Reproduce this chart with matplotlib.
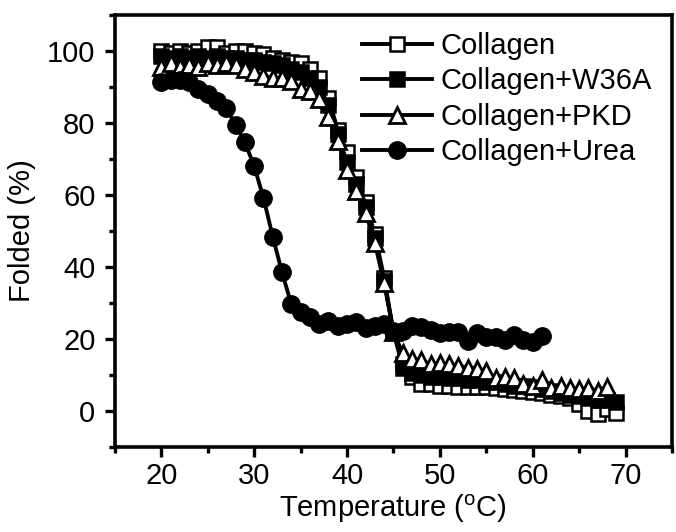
import numpy as np
import matplotlib
matplotlib.use("Agg")
import matplotlib.pyplot as plt
from matplotlib.ticker import MultipleLocator

plt.rcParams['font.family'] = ['Liberation Sans', 'DejaVu Sans']
plt.rcParams['mathtext.fontset'] = 'custom'
plt.rcParams['mathtext.rm'] = 'Liberation Sans'

# temperatures (C), 1 degree steps
temp_collagen = list(range(20, 70))
temp_w36a = list(range(20, 70))
temp_pkd = list(range(20, 69))
temp_urea = list(range(20, 62))

collagen = [100, 99.5, 100, 99.5, 100, 101, 101, 99.5, 100, 100,
            99.5, 99, 98, 97.5, 97, 96.5, 95, 92.5, 87, 78,
            71.8, 65, 58, 49, 37, 22, 13, 9.5, 7.5, 7.5,
            6.8, 7, 6.7, 6.7, 6.7, 6.5, 6.3, 6, 5.8, 5.5,
            5.2, 5, 4.5, 4, 3.5, 2, 0, -1, 0.5, -0.5]

w36a = [98.5, 98, 98.5, 98, 98.5, 98, 98.5, 98, 98, 97.5,
        97.5, 97, 96.5, 96, 95, 94, 92.5, 90, 85, 77,
        69, 63, 56.5, 48, 36, 22, 12, 10.5, 10, 9.5,
        9.5, 9, 9, 8.5, 8.5, 8, 8, 7.5, 7, 7,
        6.5, 6, 5.5, 5, 4.5, 4, 3.5, 3, 3, 2.5]

pkd = [95.5, 96.5, 95.5, 96, 95.5, 96.5, 96, 96.5, 96, 95,
       94, 93, 92.5, 92.5, 91.6, 89.4, 88.8, 86.6, 81.6, 75,
       67, 61, 55, 46.6, 35.5, 22, 16, 14.5, 14, 13,
       13.4, 13, 12.6, 12, 11.7, 11.2, 9, 9.5, 9, 7.5,
       7, 8.7, 6.4, 7, 6.4, 6.1, 6.4, 5.6, 6.7]

urea = [91.3, 92, 92, 91.3, 89.5, 88, 86, 84, 79.5, 74.6,
        68, 59.2, 48.4, 38.5, 29.6, 27.5, 26, 24.2, 25, 23.7,
        24, 24.6, 23, 23.7, 24, 22.3, 22.3, 23.5, 23.2, 22.6,
        21.5, 21.8, 21.8, 19.5, 21.5, 20.4, 20.4, 19.8, 21.2, 19.8,
        19, 20.7]

fig = plt.figure(figsize=(6.76, 5.32), dpi=100)
ax = fig.add_axes([0.170, 0.160, 0.824, 0.812])

lw = 2.8
ax.plot(temp_collagen, collagen, '-s', color='black', lw=lw, ms=10,
        mfc='white', mec='black', mew=1.8, label='Collagen')
ax.plot(temp_w36a, w36a, '-s', color='black', lw=lw, ms=10,
        mfc='black', mec='black', mew=1.8, label='Collagen+W36A')
ax.plot(temp_pkd, pkd, '-^', color='black', lw=lw, ms=11,
        mfc='white', mec='black', mew=2.0, label='Collagen+PKD')
ax.plot(temp_urea, urea, '-o', color='black', lw=lw, ms=12.5,
        mfc='black', mec='black', mew=1.0, label='Collagen+Urea')

ax.set_xlim(15, 75)
ax.set_ylim(-10, 110)
ax.xaxis.set_minor_locator(MultipleLocator(5))
ax.yaxis.set_minor_locator(MultipleLocator(10))
ax.set_xticks([20, 30, 40, 50, 60, 70])
ax.set_yticks([0, 20, 40, 60, 80, 100])

for s in ax.spines.values():
    s.set_linewidth(2.6)
ax.tick_params(which='major', direction='out', length=7, width=2.4,
               labelsize=21, pad=7)
ax.tick_params(axis='x', which='major', pad=4)
ax.tick_params(which='minor', direction='out', length=4, width=2.4)

ax.set_xlabel(r'Temperature ($^\mathrm{o}$C)', fontsize=21, labelpad=2)
ax.set_ylabel('Folded (%)', fontsize=21, labelpad=8)

ax.legend(loc='upper left', frameon=False, fontsize=21,
          handlelength=2.4, handletextpad=0.3, labelspacing=0.25,
          borderaxespad=0, borderpad=0, bbox_to_anchor=(0.443, 0.96))

fig.savefig('out.png', dpi=100)
